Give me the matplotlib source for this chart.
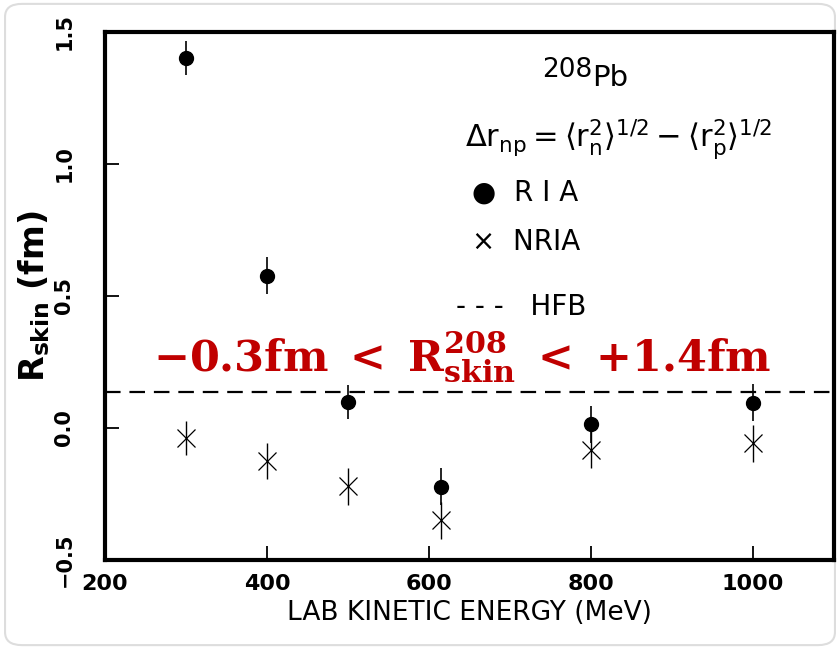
import matplotlib.pyplot as plt
from matplotlib.patches import FancyBboxPatch

plt.rcParams['mathtext.fontset'] = 'dejavusans'
plt.rcParams['mathtext.default'] = 'regular'

energy = [300, 400, 500, 615, 800, 1000]
ria = [1.40, 0.576, 0.098, -0.223, 0.015, 0.095]
ria_err = [0.065, 0.07, 0.065, 0.07, 0.07, 0.07]
nria = [-0.038, -0.125, -0.22, -0.35, -0.083, -0.057]
nria_err = [0.066, 0.068, 0.07, 0.07, 0.07, 0.07]
hfb = 0.135
xticks = [200, 400, 600, 800, 1000]
yticks = [-0.5, 0.0, 0.5, 1.0, 1.5]

fig = plt.figure(figsize=(8.4, 6.49), dpi=100)
border = FancyBboxPatch((0.006, 0.006), 0.988, 0.988, boxstyle='round,pad=0,rounding_size=0.02',
                        transform=fig.transFigure, fc='white', ec='#dddddd', lw=1.5, zorder=-10)
fig.patches.append(border)
ax = fig.add_axes([0.125, 0.137, 0.868, 0.814])
ax.patch.set_alpha(0)

ax.errorbar(energy, ria, yerr=ria_err, fmt='o', color='black', ms=10, elinewidth=1.2, capsize=0)
ax.errorbar(energy, nria, yerr=nria_err, fmt='x', color='black', ms=13, mew=0.9, elinewidth=1.0, capsize=0)
ax.axhline(hfb, color='black', lw=1.6, dashes=(7, 4))

ax.set_xlim(200, 1100)
ax.set_ylim(-0.5, 1.5)
ax.set_xticks(xticks)
ax.set_yticks(yticks)
ax.set_yticklabels(['−0.5', '0.0', '0.5', '1.0', '1.5'], rotation=90, va='center',
                   fontsize=15, fontweight='bold')
ax.set_xticklabels([str(v) for v in xticks], fontsize=16, fontweight='bold')
ax.tick_params(direction='in', length=10, width=1.3, pad=10)
ax.tick_params(axis='y', pad=22)
for s in ax.spines.values():
    s.set_linewidth(3)

ax.set_xlabel('LAB KINETIC ENERGY (MeV)', fontsize=19, labelpad=4)
ax.set_ylabel(r'$\mathbf{R_{skin}}$ (fm)', fontsize=24, fontweight='bold', labelpad=2)

# legend-like annotations
ax.text(0.60, 0.928, '208', transform=ax.transAxes, fontsize=19, ha='left', va='center')
ax.text(0.668, 0.912, 'Pb', transform=ax.transAxes, fontsize=21, ha='left', va='center')
ax.text(0.494, 0.795, r'$\Delta r_{np} = \langle r_n^2\rangle^{1/2} - \langle r_p^2\rangle^{1/2}$',
        transform=ax.transAxes, fontsize=22, ha='left', va='center')
ax.text(0.503, 0.695, '●  R I A', transform=ax.transAxes, fontsize=20, ha='left', va='center')
ax.text(0.503, 0.602, '×  NRIA', transform=ax.transAxes, fontsize=20, ha='left', va='center')
ax.text(0.482, 0.479, '- - -   HFB', transform=ax.transAxes, fontsize=20, ha='left', va='center')

ax.text(0.49, 0.385, r'$\mathbf{-0.3fm\ <\ R^{208}_{skin}\ <\ {+}1.4fm}$', transform=ax.transAxes,
        fontsize=31, color='#c00000', ha='center', va='center', math_fontfamily='dejavuserif')

fig.savefig('out.png', dpi=100)
